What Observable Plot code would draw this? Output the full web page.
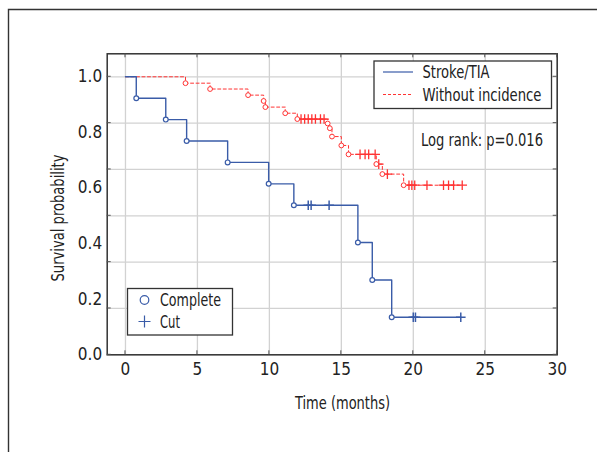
<!DOCTYPE html>
<html><head><meta charset="utf-8">
<script src="https://cdn.jsdelivr.net/npm/d3@7"></script>
<script src="https://cdn.jsdelivr.net/npm/@observablehq/plot@0.6"></script>
<style>
body{margin:0;background:#fff}
svg{font-family:"Liberation Sans Narrow","DejaVu Sans Condensed","Roboto Condensed",sans-serif}
</style>
</head><body><div id="chart"></div>
<script>
// ---- data ----
const xTicks = [0, 5, 10, 15, 20, 25, 30];
const yTicks = [0, 0.2, 0.4, 0.6, 0.8, 1.0];
const yGridTicks = [0, 0.1667, 0.3333, 0.5, 0.6667, 0.8333, 1.0];

const seriesNames = ["Stroke/TIA", "Without incidence"];
const markerNames = ["Complete", "Cut"];

// Stroke/TIA (blue)
const blueTimes = [0.75, 2.8, 4.25, 7.1, 9.95, 11.7, 16.15, 17.15, 18.5];
const blueSurv  = [0.923, 0.846, 0.769, 0.692, 0.615, 0.538, 0.404, 0.269, 0.135];
const blueCutTimes = [12.7, 12.9, 14.15, 20.0, 20.15, 23.3];
const blueCutSurv  = [0.538, 0.538, 0.538, 0.135, 0.135, 0.135];

// Without incidence (red)
const redTimes = [4.17, 5.88, 8.52, 9.6, 9.72, 11.1, 11.94, 14.05, 14.2, 14.35, 15.0, 15.5, 17.43, 17.85, 19.33];
const redSurv  = [0.977, 0.956, 0.934, 0.913, 0.891, 0.869, 0.848, 0.832, 0.815, 0.785, 0.753, 0.721, 0.686, 0.650, 0.610];
const redCutTimes = [12.2, 12.45, 12.7, 12.95, 13.2, 13.55, 13.8, 16.3, 16.65, 16.9, 17.35, 17.6, 18.2, 19.7, 19.9, 20.1, 20.95, 22.1, 22.45, 22.8, 23.4];
const redCutSurv  = [0.848, 0.848, 0.848, 0.848, 0.848, 0.848, 0.848, 0.721, 0.721, 0.721, 0.721, 0.686, 0.650, 0.610, 0.610, 0.610, 0.610, 0.610, 0.610, 0.610, 0.610];

const logRankText = "Log rank: p=0.016";

// ---- build tables ----
const BLUE = "#3a5ca8", RED = "#ff3333";
function stepLine(times, surv, endTime){
  const pts = [{t:0, s:1}];
  times.forEach((t,i)=>pts.push({t, s:surv[i]}));
  pts.push({t:endTime, s:surv[surv.length-1]});
  return pts;
}
const blueLine = stepLine(blueTimes, blueSurv, d3.max(blueCutTimes));
const redLine = stepLine(redTimes, redSurv, d3.max(redCutTimes));
const blueEvents = blueTimes.map((t,i)=>({t, s:blueSurv[i]}));
const redEvents = redTimes.map((t,i)=>({t, s:redSurv[i]}));
const blueCuts = blueCutTimes.map((t,i)=>({t, s:blueCutSurv[i]}));
const redCuts = redCutTimes.map((t,i)=>({t, s:redCutSurv[i]}));

const FONT = '"Liberation Sans Narrow","DejaVu Sans Condensed",sans-serif';

const plot = Plot.plot({
  width: 597, height: 452,
  marginLeft: 106.7, marginRight: 40.3, marginTop: 53.3, marginBottom: 97.7,
  style: {fontFamily: FONT, fontSize: "17px", background: "#fff", color: "#222", overflow: "visible"},
  x: {domain: [-1.27, 30]},
  y: {domain: [0, 1.0827]},
  marks: [
    Plot.gridX(xTicks, {stroke: "#d2d2d2", strokeOpacity: 1, strokeWidth: 1.3}),
    Plot.gridY(yGridTicks, {stroke: "#d2d2d2", strokeOpacity: 1, strokeWidth: 1.3}),
    Plot.axisX(xTicks, {tickSize: 0, tickPadding: 8, label: null, fontSize: 17}),
    Plot.axisY(yTicks, {tickSize: 0, tickPadding: 5, label: null, fontSize: 17, tickFormat: d3.format(".1f")}),
    Plot.line(redLine, {x: "t", y: "s", curve: "step-after", stroke: RED, strokeWidth: 1, strokeDasharray: "3,2.5"}),
    Plot.line(blueLine, {x: "t", y: "s", curve: "step-after", stroke: BLUE, strokeWidth: 1.4}),
    Plot.dot(redCuts, {x: "t", y: "s", symbol: "plus", r: 3.2, stroke: RED, strokeWidth: 1.3}),
    Plot.dot(blueCuts, {x: "t", y: "s", symbol: "plus", r: 3.2, stroke: BLUE, strokeWidth: 1.5}),
    Plot.dot(redEvents, {x: "t", y: "s", symbol: "circle", r: 2.4, stroke: RED, fill: "white", strokeWidth: 1}),
    Plot.dot(blueEvents, {x: "t", y: "s", symbol: "circle", r: 2.4, stroke: BLUE, fill: "white", strokeWidth: 1.2}),
    Plot.frame({stroke: "#333", strokeWidth: 1.5})
  ]
});

document.getElementById("chart").appendChild(plot);

// ---- decorations ----
const svg = d3.select(plot);
const xs = plot.scale("x"), ys = plot.scale("y");
const X = v => xs.apply(v), Y = v => ys.apply(v);
const L = X(-1.27), R = X(30), T = Y(1.0827), B = Y(0);

// outer border
svg.append("path").attr("d", `M597,9.5 H8.5 V452`).attr("fill","none").attr("stroke","#333").attr("stroke-width",1.4);

// inward tick marks
const tg = svg.append("g").attr("stroke","#555").attr("stroke-width",1);
xTicks.forEach(v=>{
  tg.append("line").attr("x1",X(v)).attr("x2",X(v)).attr("y1",B).attr("y2",B-4);
  tg.append("line").attr("x1",X(v)).attr("x2",X(v)).attr("y1",T).attr("y2",T+4);
});
yGridTicks.forEach(v=>{
  tg.append("line").attr("x1",L).attr("x2",L+4).attr("y1",Y(v)).attr("y2",Y(v));
  tg.append("line").attr("x1",R).attr("x2",R-4).attr("y1",Y(v)).attr("y2",Y(v));
});

function txt(x, y, s, len, anchor="start", size=17){
  const t = svg.append("text").attr("x",x).attr("y",y).attr("text-anchor",anchor)
    .attr("font-size",size).attr("fill","#222").text(s);
  if (len) t.attr("textLength", len).attr("lengthAdjust","spacingAndGlyphs");
  return t;
}

// axis titles
txt(342.5, 409, "Time (months)", 95, "middle");
svg.append("text").attr("transform",`translate(64,218) rotate(-90)`).attr("text-anchor","middle")
  .attr("font-size",17).attr("fill","#222").attr("textLength",127).attr("lengthAdjust","spacingAndGlyphs")
  .text("Survival probability");

// series legend (top right)
const lg = svg.append("g");
lg.append("rect").attr("x",374).attr("y",61).attr("width",177.5).attr("height",47.5)
  .attr("fill","white").attr("stroke","#333").attr("stroke-width",1.3);
lg.append("line").attr("x1",383).attr("x2",413).attr("y1",72).attr("y2",72).attr("stroke",BLUE).attr("stroke-width",1.2);
lg.append("line").attr("x1",383).attr("x2",413).attr("y1",94.5).attr("y2",94.5).attr("stroke",RED).attr("stroke-width",1).attr("stroke-dasharray","3,2");
txt(422.5, 78, seriesNames[0], 67);
txt(422.5, 100.5, seriesNames[1], 119);

// log rank text
txt(421, 146, logRankText, 122);

// marker legend (bottom left)
const mg = svg.append("g");
mg.append("rect").attr("x",127.5).attr("y",288.5).attr("width",105).attr("height",46.5)
  .attr("fill","white").attr("stroke","#333").attr("stroke-width",1.3);
mg.append("circle").attr("cx",144.5).attr("cy",300).attr("r",4.3).attr("fill","none").attr("stroke",BLUE).attr("stroke-width",1.2);
mg.append("path").attr("d","M138.5,321.5 H150.5 M144.5,315.5 V327.5").attr("stroke",BLUE).attr("stroke-width",1.2);
txt(160, 306, markerNames[0], 61);
txt(160, 328, markerNames[1], 20);
</script>
</body></html>
